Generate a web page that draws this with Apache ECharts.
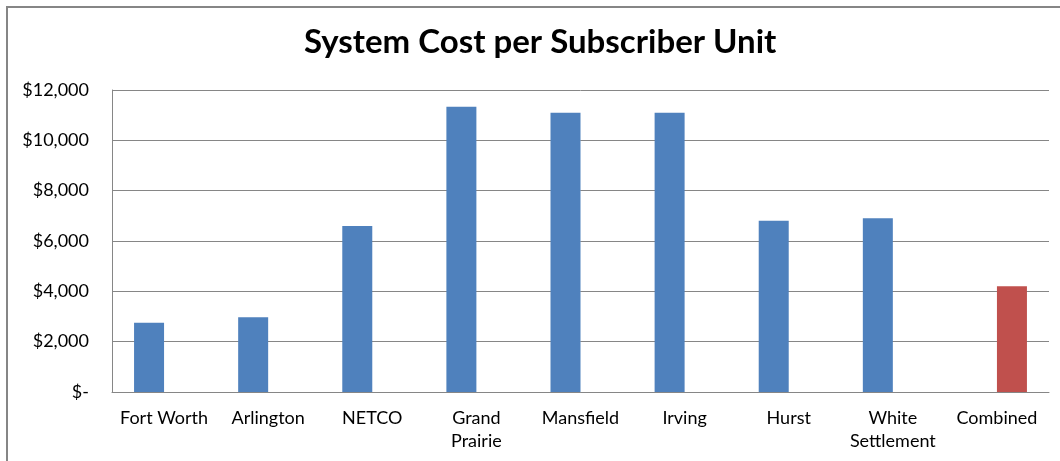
<!DOCTYPE html>
<html>
<head>
<meta charset="utf-8">
<script src="https://cdn.jsdelivr.net/npm/echarts@6/dist/echarts.min.js"></script>
<style>
    html, body { margin: 0; padding: 0; background: #fff; }
    #chart { width: 1060px; height: 461px; }
</style>
</head>
<body>
<div id="chart"></div>
<script>
    // 各单位的用户单位成本
    var categories = ['Fort Worth', 'Arlington', 'NETCO', 'Grand\nPrairie', 'Mansfield', 'Irving', 'Hurst', 'White\nSettlement', 'Combined'];
    var cityCost = [2750, 2970, 6600, 11330, 11100, 11100, 6800, 6900, null];
    var combinedCost = [null, null, null, null, null, null, null, null, 4200];
    var yTicks = {min: 0, max: 12000, interval: 2000};

    var myChart = echarts.init(document.getElementById('chart'));
    var font = 'Lato';

    var option = {
        animation: false,
        title: {
            text: 'System Cost per Subscriber Unit',
            left: 299,
            top: 21,
            textStyle: {fontFamily: font, fontSize: 33, fontWeight: 'bold', color: '#000'}
        },
        graphic: [{
            type: 'rect',
            shape: {x: 7, y: 7, width: 1100, height: 500},
            style: {fill: 'none', stroke: '#868686', lineWidth: 2},
            silent: true
        }],
        grid: {left: 112, right: 11, top: 90, bottom: 69, containLabel: false},
        xAxis: {
            type: 'category',
            data: categories,
            axisLine: {lineStyle: {color: '#868686'}},
            axisTick: {show: false},
            axisLabel: {
                interval: 0,
                margin: 15,
                fontFamily: font,
                fontSize: 18,
                lineHeight: 23,
                color: '#000'
            }
        },
        yAxis: {
            type: 'value',
            min: yTicks.min,
            max: yTicks.max,
            interval: yTicks.interval,
            axisLine: {show: true, lineStyle: {color: '#868686'}},
            axisTick: {show: false},
            splitLine: {lineStyle: {color: '#868686'}},
            axisLabel: {
                margin: 23,
                fontFamily: font,
                fontSize: 18,
                color: '#000',
                formatter: function (val) {
                    if (val === 0) {
                        return '$-';
                    }
                    return '$' + val.toLocaleString('en-US');
                }
            }
        },
        series: [
            {
                name: 'Cities',
                type: 'bar',
                barWidth: 30,
                barGap: '0%',
                itemStyle: {color: '#4F81BD'},
                data: cityCost
            },
            {
                name: 'Combined',
                type: 'bar',
                barWidth: 30,
                barGap: '0%',
                itemStyle: {color: '#C0504D'},
                data: combinedCost
            }
        ]
    };
    myChart.setOption(option);
</script>
</body>
</html>
